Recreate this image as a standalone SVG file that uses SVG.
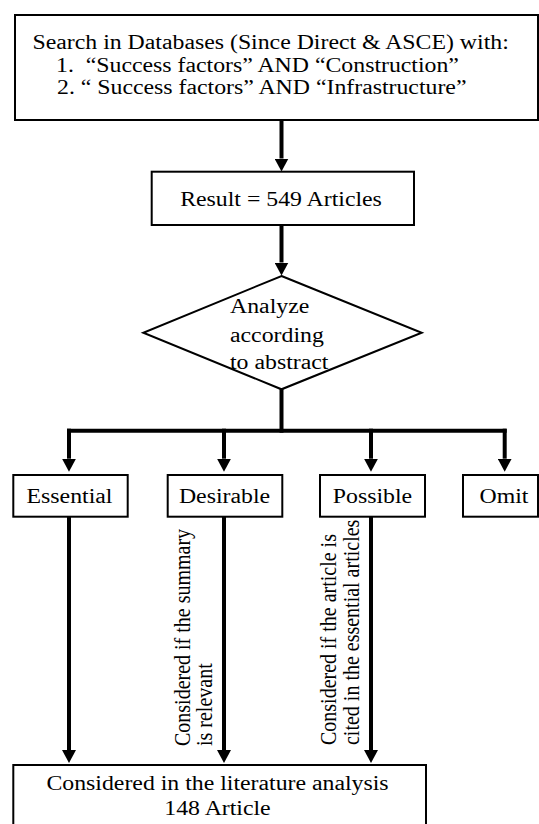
<svg xmlns="http://www.w3.org/2000/svg" width="539" height="824" viewBox="0 0 539 824">
<style>
.box{fill:#fff;stroke:#000;stroke-width:2}
.t{font-family:'Liberation Serif','Times New Roman',serif;font-size:20px;fill:#000}
.m{text-anchor:middle}
.c{fill:none;stroke:#000;stroke-width:4}
</style>
<defs>
<marker id="ah" markerUnits="userSpaceOnUse" markerWidth="14" markerHeight="14" refX="0" refY="7" orient="auto">
<path d="M0,0 L13,7 L0,14 z" fill="#000"/>
</marker>
</defs>
<rect width="539" height="824" fill="#fff"/>
<g id="connectors">
<line class="c" x1="281.5" y1="120" x2="281.5" y2="158.5" marker-end="url(#ah)"/>
<line class="c" x1="281.5" y1="225" x2="281.5" y2="262.5" marker-end="url(#ah)"/>
<line class="c" x1="281.5" y1="389" x2="281.5" y2="432.7"/>
<line class="c" x1="67" y1="430.7" x2="506.7" y2="430.7"/>
<line class="c" x1="69" y1="428.7" x2="69" y2="458.7" marker-end="url(#ah)"/>
<line class="c" x1="224" y1="428.7" x2="224" y2="458.7" marker-end="url(#ah)"/>
<line class="c" x1="371" y1="428.7" x2="371" y2="458.7" marker-end="url(#ah)"/>
<line class="c" x1="504.7" y1="428.7" x2="504.7" y2="458.7" marker-end="url(#ah)"/>
<line class="c" x1="69" y1="517" x2="69" y2="750" marker-end="url(#ah)"/>
<line class="c" x1="224" y1="517" x2="224" y2="750" marker-end="url(#ah)"/>
<line class="c" x1="371" y1="517" x2="371" y2="750" marker-end="url(#ah)"/>
<text class="t" transform="translate(190,746) scale(1.19,1) rotate(-90)">Considered if the summary</text>
<text class="t" transform="translate(211.5,746) scale(1.19,1) rotate(-90)">is relevant</text>
<text class="t" transform="translate(336,745) scale(1.19,1) rotate(-90)">Considered if the article is</text>
<text class="t" transform="translate(358.5,745) scale(1.19,1) rotate(-90)">cited in the essential articles</text>
</g>
<g id="search">
<rect class="box" x="15" y="15" width="523" height="105"/>
<text class="t" transform="translate(32.5,49) scale(1.19,1)">Search in Databases (Since Direct &amp; ASCE) with:</text>
<text class="t" transform="translate(56,71.5) scale(1.19,1)" xml:space="preserve">1.  “Success factors” AND “Construction”</text>
<text class="t" transform="translate(57,94) scale(1.19,1)">2. “ Success factors” AND “Infrastructure”</text>
</g>
<g id="result">
<rect class="box" x="151.7" y="171.7" width="262.3" height="53.3"/>
<text class="t m" transform="translate(281,205.5) scale(1.19,1)">Result = 549 Articles</text>
</g>
<g id="analyze">
<polygon class="box" points="281.5,276 421.7,332.7 281.5,389.3 143.3,332.7"/>
<text class="t" transform="translate(230,313.3) scale(1.19,1)">Analyze</text>
<text class="t" transform="translate(230,341.7) scale(1.19,1)">according</text>
<text class="t" transform="translate(230,369.3) scale(1.19,1)">to abstract</text>
</g>
<g id="essential">
<rect class="box" x="13.3" y="475" width="114.4" height="41.7"/>
<text class="t m" transform="translate(69.5,502.7) scale(1.19,1)">Essential</text>
</g>
<g id="desirable">
<rect class="box" x="167.7" y="475" width="114.6" height="41.7"/>
<text class="t m" transform="translate(224.5,502.7) scale(1.19,1)">Desirable</text>
</g>
<g id="possible">
<rect class="box" x="320" y="475" width="105" height="41.7"/>
<text class="t m" transform="translate(372.5,502.7) scale(1.19,1)">Possible</text>
</g>
<g id="omit">
<rect class="box" x="463" y="475" width="75" height="41.7"/>
<text class="t m" transform="translate(504,502.7) scale(1.19,1)">Omit</text>
</g>
<g id="considered">
<rect class="box" x="13.3" y="765" width="412.7" height="62"/>
<text class="t m" transform="translate(217.5,790) scale(1.19,1)">Considered in the literature analysis</text>
<text class="t m" transform="translate(217.5,815) scale(1.19,1)">148 Article</text>
</g>
</svg>
